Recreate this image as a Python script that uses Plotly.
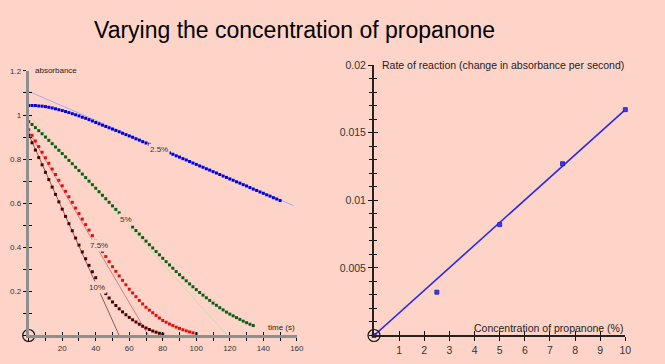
import plotly.graph_objects as go

BG = "#FFD4C8"
FONT = "Liberation Sans, Arial, sans-serif"

# ---------------- data: left chart (absorbance vs time) ----------------
t_blue = list(range(0, 152, 2))
a_blue = [1.043, 1.043, 1.043, 1.041, 1.040, 1.038, 1.035, 1.032, 1.028, 1.024,
          1.020, 1.016, 1.011, 1.006, 1.001, 0.996, 0.990, 0.985, 0.979, 0.973,
          0.966, 0.960, 0.954, 0.948, 0.942, 0.936, 0.930, 0.924, 0.917, 0.911,
          0.905, 0.899, 0.892, 0.886, 0.879, 0.873, 0.867, 0.860, 0.854, 0.847,
          0.841, 0.834, 0.828, 0.822, 0.815, 0.809, 0.802, 0.796, 0.789, 0.782,
          0.776, 0.769, 0.763, 0.756, 0.750, 0.743, 0.737, 0.730, 0.723, 0.717,
          0.710, 0.704, 0.697, 0.691, 0.684, 0.678, 0.671, 0.664, 0.658, 0.651,
          0.645, 0.638, 0.632, 0.625, 0.619, 0.612]

t_green = list(range(0, 136, 2))
a_green = [0.970, 0.957, 0.943, 0.929, 0.915, 0.900, 0.885, 0.870, 0.855, 0.840,
           0.825, 0.810, 0.794, 0.779, 0.763, 0.748, 0.732, 0.716, 0.700, 0.684,
           0.668, 0.652, 0.636, 0.620, 0.604, 0.588, 0.572, 0.556, 0.540, 0.524,
           0.508, 0.492, 0.476, 0.460, 0.444, 0.428, 0.412, 0.397, 0.381, 0.366,
           0.350, 0.335, 0.320, 0.305, 0.290, 0.276, 0.262, 0.248, 0.234, 0.221,
           0.208, 0.195, 0.183, 0.171, 0.159, 0.147, 0.137, 0.126, 0.116, 0.106,
           0.097, 0.089, 0.081, 0.073, 0.065, 0.058, 0.051, 0.045]

t_red = list(range(0, 102, 2))
a_red = [0.933, 0.908, 0.882, 0.857, 0.831, 0.806, 0.781, 0.755, 0.730, 0.704,
         0.679, 0.654, 0.629, 0.604, 0.578, 0.553, 0.528, 0.503, 0.478, 0.453,
         0.428, 0.404, 0.381, 0.358, 0.335, 0.312, 0.291, 0.270, 0.250, 0.230,
         0.210, 0.193, 0.176, 0.159, 0.143, 0.128, 0.115, 0.103, 0.091, 0.079,
         0.068, 0.060, 0.052, 0.045, 0.038, 0.032, 0.026, 0.021, 0.016, 0.012,
         0.008]

t_dark = list(range(0, 82, 2))
a_dark = [0.908, 0.874, 0.841, 0.807, 0.774, 0.740, 0.707, 0.673, 0.640, 0.606,
          0.573, 0.540, 0.507, 0.475, 0.442, 0.410, 0.379, 0.348, 0.318, 0.289,
          0.262, 0.236, 0.212, 0.190, 0.170, 0.152, 0.136, 0.121, 0.107, 0.094,
          0.082, 0.071, 0.061, 0.051, 0.042, 0.034, 0.027, 0.020, 0.015, 0.010,
          0.006]

# tangent (initial-rate) lines: endpoints
tan_blue_t, tan_blue_a = [0, 158], [1.107, 0.589]
tan_green_t, tan_green_a = [0, 118.5], [1.0, 0.0]
tan_red_t, tan_red_a = [0, 71.5], [0.925, 0.0]
tan_dark_t, tan_dark_a = [0, 54], [0.912, 0.0]

labels = ["2.5%", "5%", "7.5%", "10%"]
label_t = [78, 57.8, 41.7, 41.0]
label_a = [0.844, 0.525, 0.409, 0.219]

left_x_ticks = [20, 40, 60, 80, 100, 120, 140, 160]
left_y_ticks = [0.2, 0.4, 0.6, 0.8, 1.0, 1.2]
left_y_text = ["0.2", "0.4", "0.6", "0.8", "1", "1.2"]

# ---------------- data: right chart (rate vs concentration) ----------------
conc = [0, 2.5, 5, 7.5, 10]
rate = [0, 0.0032, 0.0082, 0.0127, 0.0167]
fit_x, fit_y = [0, 10], [0, 0.0167]
right_x_ticks = [1, 2, 3, 4, 5, 6, 7, 8, 9, 10]
right_y_ticks = [0.005, 0.01, 0.015, 0.02]
right_y_text = ["0.005", "0.01", "0.015", "0.02"]

# ---------------- figure ----------------
fig = go.Figure()

def line(x, y, color, xa="x", ya="y", w=1):
    fig.add_trace(go.Scatter(x=x, y=y, mode="lines", xaxis=xa, yaxis=ya,
                             line=dict(color=color, width=w), hoverinfo="skip",
                             showlegend=False))

def dots(x, y, color):
    fig.add_trace(go.Scatter(x=x, y=y, mode="markers", xaxis="x", yaxis="y",
                             marker=dict(symbol="square", size=3, color=color,
                                         line=dict(width=0)),
                             cliponaxis=False, showlegend=False))

line(tan_blue_t, tan_blue_a, "#a8a8ff")
line(tan_green_t, tan_green_a, "#c9dcae")
line(tan_red_t, tan_red_a, "#e07a7a")
line(tan_dark_t, tan_dark_a, "#8a5a5a")

dots(t_blue, a_blue, "#0000dd")
dots(t_green, a_green, "#0b5e1a")
dots(t_red, a_red, "#e01010")
dots(t_dark, a_dark, "#4a0000")

# origin circle (left), drawn on overlay axes
fig.add_trace(go.Scatter(x=[0], y=[0], mode="markers", xaxis="x3", yaxis="y3",
                         marker=dict(symbol="circle-open", size=12, color="#111",
                                     line=dict(width=1.2)),
                         cliponaxis=False, hoverinfo="skip", showlegend=False))

# right chart
line(fit_x, fit_y, "#2a2ae0", "x2", "y2", 1.6)
fig.add_trace(go.Scatter(x=conc, y=rate, mode="markers", xaxis="x2", yaxis="y2",
                         marker=dict(symbol="square", size=4, color="#3a3aff",
                                     line=dict(width=0.8, color="#1a1ab0")),
                         cliponaxis=False, showlegend=False))
fig.add_trace(go.Scatter(x=[0], y=[0], mode="markers", xaxis="x4", yaxis="y4",
                         marker=dict(symbol="circle-open", size=12, color="#111",
                                     line=dict(width=1.2)),
                         cliponaxis=False, hoverinfo="skip", showlegend=False))

W, H = 665, 364
def px(xp): return xp / W
def py(yp): return 1 - yp / H

L_dom_x = [px(29), px(300)]
L_dom_y = [py(335), py(66)]
R_dom_x = [px(378), px(632)]
R_dom_y = [py(335), py(60)]

tickfont_l = dict(family=FONT, size=8, color="#333")
tickfont_r = dict(family=FONT, size=10.5, color="#333")

common = dict(showgrid=False, zeroline=False, fixedrange=True)

fig.update_layout(
    width=W, height=H,
    margin=dict(l=0, r=0, t=0, b=0),
    paper_bgcolor=BG, plot_bgcolor="rgba(0,0,0,0)",
    showlegend=False,
    xaxis=dict(domain=L_dom_x, range=[0, 160], anchor="y", **common,
               showline=True, linecolor="#8f8f8f", linewidth=3,
               tickmode="array", tickvals=left_x_ticks,
               ticks="outside", ticklen=3, tickcolor="#000", tickwidth=1,
               minor=dict(ticks="outside", dtick=10, ticklen=3, tickcolor="#000"),
               tickfont=tickfont_l),
    yaxis=dict(domain=L_dom_y, range=[0, 1.2], anchor="x", **common,
               showline=True, linecolor="#8f8f8f", linewidth=3,
               tickmode="array", tickvals=left_y_ticks, ticktext=left_y_text,
               ticks="outside", ticklen=3, tickcolor="#000", tickwidth=1,
               minor=dict(ticks="outside", dtick=0.1, ticklen=3, tickcolor="#000"),
               tickfont=tickfont_l),
    xaxis3=dict(overlaying="x", range=[0, 160], anchor="y3", side="bottom", **common,
                showline=False, showticklabels=False,
                tickmode="array", tickvals=left_x_ticks,
                ticks="inside", ticklen=3, tickcolor="#000",
                minor=dict(ticks="inside", dtick=10, ticklen=3, tickcolor="#000")),
    yaxis3=dict(overlaying="y", range=[0, 1.2], anchor="x3", side="left", **common,
                showline=False, showticklabels=False,
                tickmode="array", tickvals=left_y_ticks,
                ticks="inside", ticklen=3, tickcolor="#000",
                minor=dict(ticks="inside", dtick=0.1, ticklen=3, tickcolor="#000")),
    xaxis2=dict(domain=R_dom_x, range=[0, 10], anchor="y2", **common,
                showline=True, linecolor="#2a2020", linewidth=2,
                tickmode="array", tickvals=right_x_ticks,
                ticks="outside", ticklen=4, tickcolor="#111", tickwidth=1.2,
                tickfont=tickfont_r),
    yaxis2=dict(domain=R_dom_y, range=[0, 0.02], anchor="x2", **common,
                showline=True, linecolor="#2a2020", linewidth=2,
                tickmode="array", tickvals=right_y_ticks, ticktext=right_y_text,
                ticks="outside", ticklen=4, tickcolor="#111", tickwidth=1.2,
                minor=dict(ticks="outside", dtick=0.001, ticklen=3, tickcolor="#111"),
                tickfont=tickfont_r),
    xaxis4=dict(overlaying="x2", range=[0, 10], anchor="y4", side="bottom", **common,
                showline=False, showticklabels=False,
                tickmode="array", tickvals=right_x_ticks,
                ticks="inside", ticklen=4, tickcolor="#111", tickwidth=1.2),
    yaxis4=dict(overlaying="y2", range=[0, 0.02], anchor="x4", side="left", **common,
                showline=False, showticklabels=False,
                tickmode="array", tickvals=right_y_ticks,
                ticks="inside", ticklen=4, tickcolor="#111", tickwidth=1.2,
                minor=dict(ticks="inside", dtick=0.001, ticklen=3, tickcolor="#111")),
)

ann = []
# title
ann.append(dict(text="Varying the concentration of propanone", xref="paper", yref="paper",
                x=px(298), y=py(24), xanchor="center", yanchor="middle", showarrow=False,
                font=dict(family=FONT, size=23, color="#000")))
# left axis titles
ann.append(dict(text="absorbance", xref="x", yref="y", x=2.5, y=1.2,
                xanchor="left", yanchor="middle", showarrow=False,
                font=dict(family=FONT, size=8, color="#222")))
ann.append(dict(text="time (s)", xref="x", yref="y", x=160, y=0.035,
                xanchor="right", yanchor="middle", showarrow=False,
                font=dict(family=FONT, size=8, color="#222")))
# series labels (background covers the dots underneath)
for txt, tx, ay in zip(labels, label_t, label_a):
    ann.append(dict(text=txt, xref="x", yref="y", x=tx, y=ay,
                    xanchor="center", yanchor="middle", showarrow=False,
                    bgcolor=BG, borderpad=1,
                    font=dict(family=FONT, size=8, color="#333")))
# right axis titles
ann.append(dict(text="Rate of reaction (change in absorbance per second)",
                xref="x2", yref="y2", x=0.23, y=0.02,
                xanchor="left", yanchor="middle", showarrow=False,
                font=dict(family=FONT, size=10.5, color="#222")))
ann.append(dict(text="Concentration of propanone (%)",
                xref="x2", yref="y2", x=10, y=0.00058,
                xanchor="right", yanchor="middle", showarrow=False,
                font=dict(family=FONT, size=10.5, color="#222")))
fig.update_layout(annotations=ann)

fig.write_html(
    "out.html",
    config={"displayModeBar": False},
    post_script=(
        "document.documentElement.style.margin='0';"
        "document.documentElement.style.overflow='hidden';"
        "document.body.style.margin='0';"
        "document.body.style.padding='0';"
        "document.body.style.overflow='hidden';"
        "document.body.style.background='" + BG + "';"
    ),
)
